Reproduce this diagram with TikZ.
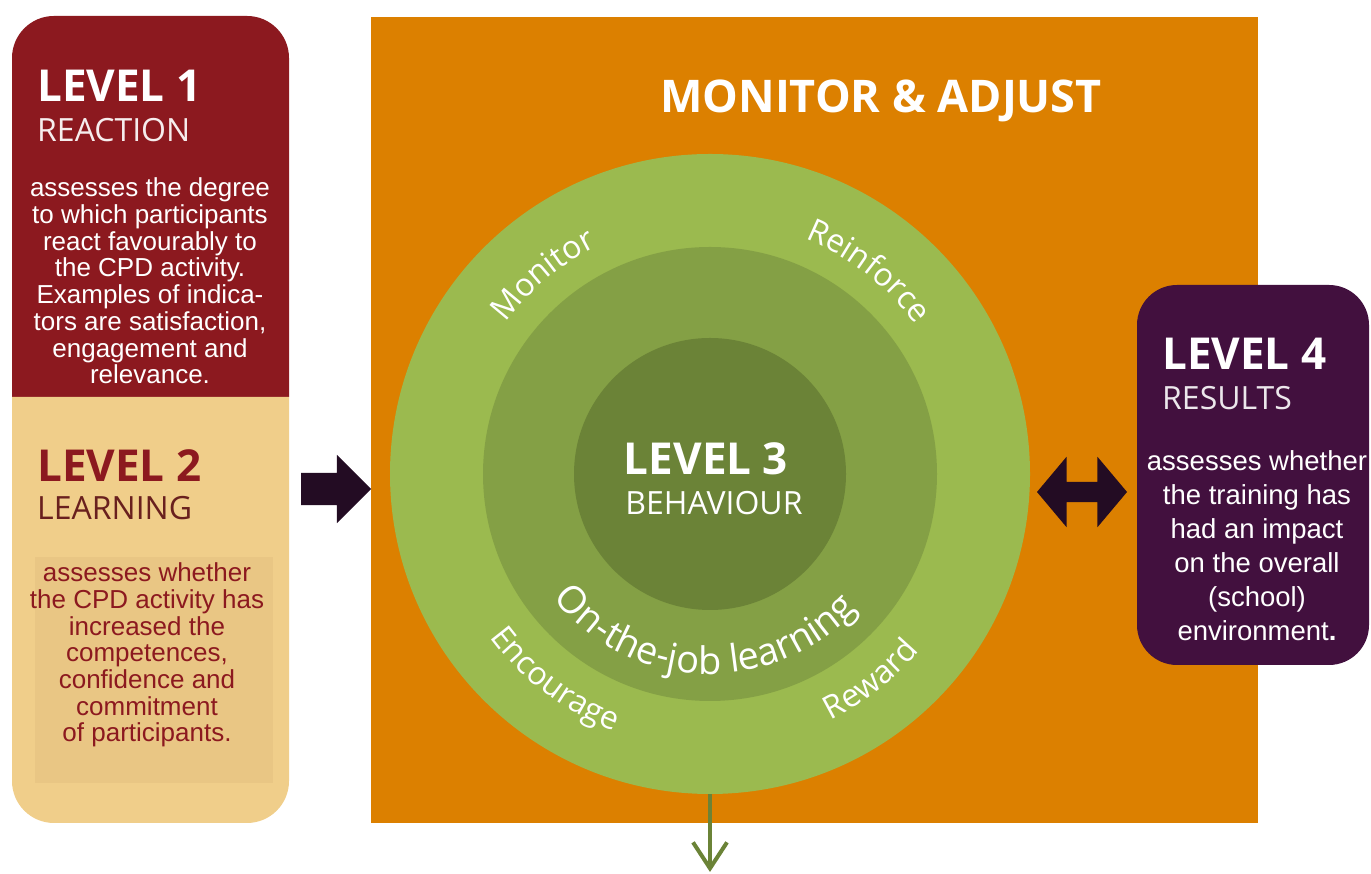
\documentclass[tikz,border=0pt]{standalone}
\usepackage{fontspec}
\setmainfont{Liberation Sans}
\newfontfamily\headfont{Open Sans}
\usetikzlibrary{shapes.arrows,decorations.text,arrows.meta}
\definecolor{lvlred}{RGB}{140,25,31}
\definecolor{lvltan}{RGB}{240,206,138}
\definecolor{lvlpanel}{RGB}{233,198,132}
\definecolor{lvlbrown}{RGB}{105,32,30}
\definecolor{lvlpurple}{RGB}{66,16,62}
\definecolor{adjorange}{RGB}{220,128,0}
\definecolor{ringout}{RGB}{155,186,79}
\definecolor{ringmid}{RGB}{132,160,69}
\definecolor{ringin}{RGB}{107,131,55}
\definecolor{arrowdark}{RGB}{35,12,35}
\newcommand\ringfont{\headfont\fontsize{32}{32}\selectfont\color{white}}
\newcommand\jobfont{\headfont\fontsize{38}{38}\selectfont\color{white}}
\begin{document}
\begin{tikzpicture}[x=1pt,y=1pt,
    head/.style={anchor=base west,inner sep=0,font=\headfont\bfseries\fontsize{44}{44}\selectfont},
    sub/.style={anchor=base west,inner sep=0,font=\headfont\fontsize{32}{32}\selectfont},
    body/.style={align=center,inner sep=0,font=\fontsize{26}{26.7}\selectfont},
    disc/.style={circle,inner sep=0,minimum size=#1},
    ringword/.style={decorate,decoration={text along path,text align=center,text={#1}}}]
      \useasboundingbox (0,0) rectangle (1371,874);
      \fill[lvlred] (12,477) -- (12,816) arc[start angle=180,end angle=90,radius=42] -- (247,858) arc[start angle=90,end angle=0,radius=42] -- (289,477) -- cycle;
      \fill[lvltan] (12,477) -- (12,93) arc[start angle=180,end angle=270,radius=42] -- (247,51) arc[start angle=270,end angle=360,radius=42] -- (289,477) -- cycle;
      \fill[lvlpanel] (35,91) rectangle (273,317);
      \node[head,white] (lvlonehead) at (37,772) {LEVEL 1};
      \node[sub,white!92!lvlred] (lvlonesub) at (37,732) {REACTION};
      \node[body,white] (lvlonetext) at (150,593) {assesses the degree\\to which participants\\react favourably to\\the CPD activity.\\Examples of indica-\\tors are satisfaction,\\engagement and\\relevance.};
      \node[head,lvlred] (lvltwohead) at (37,392) {LEVEL 2};
      \node[sub,lvlbrown] (lvltwosub) at (37,354) {LEARNING};
      \node[body,lvlred] (lvltwotext) at (147,219) {assesses whether\\the CPD activity has\\increased the\\competences,\\confidence and\\commitment\\of participants.};
      \fill[adjorange] (371,51) rectangle (1258,857);
      \node[head,white,anchor=base,font=\headfont\bfseries\fontsize{45}{45}\selectfont] (adjust) at (881,761) {MONITOR \& ADJUST};
      \coordinate (ctr) at (710,400);
      \node[disc=640pt,fill=ringout] (ring) at (ctr) {};
      \node[disc=454pt,fill=ringmid] (midring) at (ctr) {};
      \node[disc=272pt,fill=ringin] (core) at (ctr) {};
      \node[head,white,anchor=base] (lvlthreehead) at (706,399) {LEVEL 3};
      \node[sub,white,anchor=base] (lvlthreesub) at (714,359) {BEHAVIOUR};
      \path[ringword={|\ringfont|Monitor}] ([shift={(165:254)}]ctr) arc[start angle=165,end angle=95,radius=254];
      \path[ringword={|\ringfont|Reinforce}] ([shift={(87:254)}]ctr) arc[start angle=87,end angle=17,radius=254];
      \path[ringword={|\ringfont|Encourage}] ([shift={(196:274)}]ctr) arc[start angle=196,end angle=270,radius=274];
      \path[ringword={|\ringfont|Reward}] ([shift={(273:274)}]ctr) arc[start angle=273,end angle=343,radius=274];
      \path[ringword={|\jobfont|On-the-job learning}] ([shift={(200:200)}]ctr) arc[start angle=200,end angle=336,radius=200];
      \fill[lvlpurple,rounded corners=40] (1137,209) rectangle (1369,589);
      \node[head,white] (lvlfourhead) at (1162,504) {LEVEL 4};
      \node[sub,white!90!lvlpurple] (lvlfoursub) at (1162,464) {RESULTS};
      \node[body,white,font=\fontsize{27.5}{34}\selectfont] (lvlfourtext) at (1257,328) {assesses whether\\the training has\\had an impact\\on the overall\\(school)\\environment\textbf{.}};
      \node[single arrow,fill=arrowdark,inner sep=16pt,single arrow head extend=18pt,minimum height=70pt] (arrowin) at (328,385) {};
      \node[double arrow,fill=arrowdark,inner sep=10pt,double arrow head extend=25pt,double arrow tip angle=100,minimum height=90pt] (arrowout) at (1082,382) {};
      \coordinate (downend) at (710,2);
      \draw[ringin,line width=4pt,-{Straight Barb[length=26pt,width=34pt]}] (ring.south) -- (downend);
    \end{tikzpicture}
\end{document}
